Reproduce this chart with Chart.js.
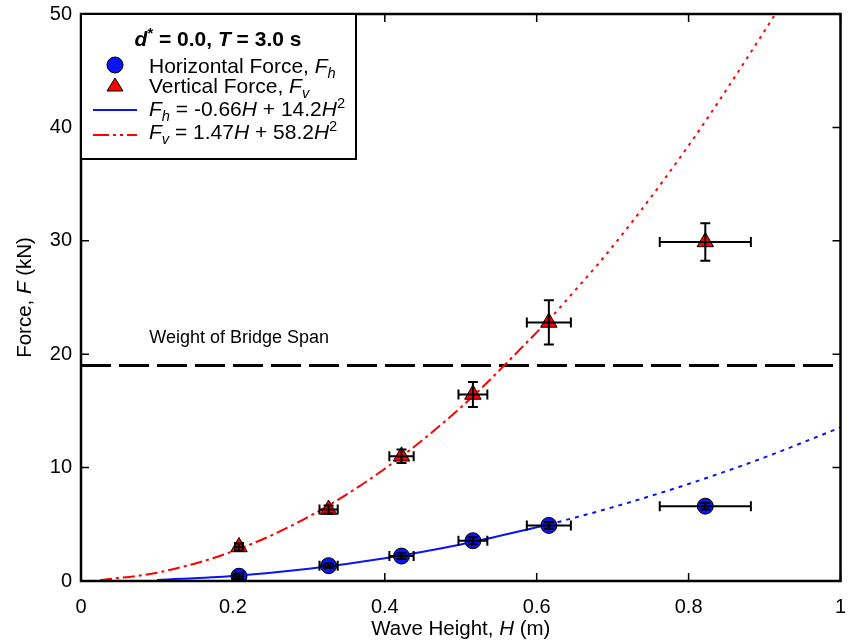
<!DOCTYPE html>
<html>
<head>
<meta charset="utf-8">
<script src="https://cdn.jsdelivr.net/npm/chart.js@4/dist/chart.umd.min.js"></script>
<style>
  html, body { margin: 0; padding: 0; background: #fff; }
  #wrap { width: 851px; height: 644px; }
</style>
</head>
<body>
<div id="wrap"><canvas id="chart" width="851" height="644"></canvas></div>
<script>
// measured points (wave height in m, forces in kN)
const waveHeight = [0.208, 0.326, 0.422, 0.516, 0.616, 0.822];
const waveHeightErr = [0.005, 0.012, 0.016, 0.019, 0.029, 0.06];
const horizForce = [0.42, 1.35, 2.2, 3.55, 4.9, 6.6];
const horizForceErr = [0.25, 0.2, 0.25, 0.3, 0.3, 0.3];
const vertForce = [3.0, 6.3, 11.0, 16.45, 22.8, 29.9];
const vertForceErr = [0.3, 0.35, 0.6, 1.1, 1.95, 1.65];

// fitted curves
const fhFitH = [0.1, 0.2, 0.3, 0.4, 0.5, 0.616];
const fhFitF = [0.08, 0.44, 1.08, 2.01, 3.22, 4.98];
const fhExtH = [0.616, 0.7, 0.8, 0.9, 1.0];
const fhExtF = [4.98, 6.5, 8.56, 10.9, 13.54];
const fvFitH = [0.025, 0.1, 0.2, 0.3, 0.4, 0.5, 0.616];
const fvFitF = [0.07, 0.73, 2.62, 5.68, 9.9, 15.3, 23.0];
const fvExtH = [0.616, 0.7, 0.8, 0.9, 0.916];
const fvExtF = [23.0, 29.5, 38.4, 48.5, 50.2];

const bridgeWeight = 19;
const xTicks = [0, 0.2, 0.4, 0.6, 0.8, 1];
const yTicks = [0, 10, 20, 30, 40, 50];

const FONT = '"Liberation Sans", Arial, sans-serif';
const BLUE = '#0a14f5';
const RED = '#ff0000';

const pts = (xs, ys) => xs.map((x, i) => ({ x: x, y: ys[i] }));

// draw text made of styled pieces: {t, i (italic), b (bold), sub, sup}
function richWidth(ctx, parts, size) {
  let w = 0;
  parts.forEach(p => {
    const s = (p.sub || p.sup) ? size * 0.7 : size;
    ctx.font = (p.i ? 'italic ' : '') + (p.b ? 'bold ' : '') + s + 'px ' + FONT;
    w += ctx.measureText(p.t).width;
  });
  return w;
}
function drawRich(ctx, parts, x, y, size, align) {
  let cx = x;
  if (align === 'center') cx = x - richWidth(ctx, parts, size) / 2;
  ctx.textBaseline = 'alphabetic';
  ctx.textAlign = 'left';
  parts.forEach(p => {
    const s = (p.sub || p.sup) ? size * 0.7 : size;
    ctx.font = (p.i ? 'italic ' : '') + (p.b ? 'bold ' : '') + s + 'px ' + FONT;
    let dy = 0;
    if (p.sub) dy = size * 0.25;
    if (p.sup) dy = -size * 0.4;
    ctx.fillText(p.t, cx, y + dy);
    cx += ctx.measureText(p.t).width;
  });
}

const extras = {
  id: 'extras',
  afterDatasetsDraw(chart) {
    const ctx = chart.ctx;
    const xs = chart.scales.x, ys = chart.scales.y;
    ctx.save();
    ctx.strokeStyle = '#000';
    ctx.lineWidth = 2;
    const cap = 5;
    const bars = (vals, errs) => {
      waveHeight.forEach((h, i) => {
        const px = xs.getPixelForValue(h), py = ys.getPixelForValue(vals[i]);
        const x0 = xs.getPixelForValue(h - waveHeightErr[i]);
        const x1 = xs.getPixelForValue(h + waveHeightErr[i]);
        const y0 = ys.getPixelForValue(vals[i] - errs[i]);
        const y1 = ys.getPixelForValue(vals[i] + errs[i]);
        ctx.beginPath();
        ctx.moveTo(x0, py); ctx.lineTo(x1, py);
        ctx.moveTo(x0, py - cap); ctx.lineTo(x0, py + cap);
        ctx.moveTo(x1, py - cap); ctx.lineTo(x1, py + cap);
        ctx.moveTo(px, y0); ctx.lineTo(px, y1);
        ctx.moveTo(px - cap, y0); ctx.lineTo(px + cap, y0);
        ctx.moveTo(px - cap, y1); ctx.lineTo(px + cap, y1);
        ctx.stroke();
      });
    };
    bars(horizForce, horizForceErr);
    bars(vertForce, vertForceErr);
    ctx.restore();
  },
  afterDraw(chart) {
    const ctx = chart.ctx;
    const a = chart.chartArea;
    const xs = chart.scales.x, ys = chart.scales.y;
    ctx.save();
    ctx.fillStyle = '#000';
    ctx.strokeStyle = '#000';

    // inward ticks on all four sides
    ctx.lineWidth = 1.5;
    ctx.beginPath();
    xTicks.forEach(v => {
      const px = xs.getPixelForValue(v);
      ctx.moveTo(px, a.bottom); ctx.lineTo(px, a.bottom - 8);
      ctx.moveTo(px, a.top); ctx.lineTo(px, a.top + 8);
    });
    yTicks.forEach(v => {
      const py = ys.getPixelForValue(v);
      ctx.moveTo(a.left, py); ctx.lineTo(a.left + 8, py);
      ctx.moveTo(a.right, py); ctx.lineTo(a.right - 8, py);
    });
    ctx.stroke();

    // frame
    ctx.lineWidth = 2.5;
    ctx.strokeRect(a.left, a.top, a.right - a.left, a.bottom - a.top);

    // bridge weight label
    drawRich(ctx, [{ t: 'Weight of Bridge Span' }],
      xs.getPixelForValue(0.09), ys.getPixelForValue(bridgeWeight) - 23, 18);

    // legend box
    const lx = a.left, ly = a.top;
    ctx.fillStyle = '#fff';
    ctx.fillRect(lx, ly, 275, 145);
    ctx.lineWidth = 2;
    ctx.strokeRect(lx, ly, 275, 145);
    ctx.fillStyle = '#000';
    drawRich(ctx, [
      { t: 'd', i: 1, b: 1 }, { t: '*', b: 1, sup: 1 }, { t: ' = 0.0, ', b: 1 },
      { t: 'T', i: 1, b: 1 }, { t: ' = 3.0 s', b: 1 }
    ], lx + 137, ly + 32, 21, 'center');

    const tx = lx + 68;
    // circle marker
    ctx.beginPath();
    ctx.arc(lx + 34, ly + 51, 8, 0, Math.PI * 2);
    ctx.fillStyle = BLUE; ctx.fill();
    ctx.lineWidth = 1; ctx.stroke();
    ctx.fillStyle = '#000';
    drawRich(ctx, [{ t: 'Horizontal Force, ' }, { t: 'F', i: 1 }, { t: 'h', i: 1, sub: 1 }],
      tx, ly + 59, 21);
    // triangle marker
    ctx.beginPath();
    ctx.moveTo(lx + 34, ly + 64);
    ctx.lineTo(lx + 42, ly + 77);
    ctx.lineTo(lx + 26, ly + 77);
    ctx.closePath();
    ctx.fillStyle = RED; ctx.fill(); ctx.stroke();
    ctx.fillStyle = '#000';
    drawRich(ctx, [{ t: 'Vertical Force, ' }, { t: 'F', i: 1 }, { t: 'v', i: 1, sub: 1 }],
      tx, ly + 79, 21);
    // line samples
    ctx.lineWidth = 2;
    ctx.strokeStyle = BLUE;
    ctx.beginPath(); ctx.moveTo(lx + 12, ly + 96); ctx.lineTo(lx + 56, ly + 96); ctx.stroke();
    ctx.strokeStyle = RED;
    ctx.setLineDash([16, 4, 3, 4, 3, 4]);
    ctx.beginPath(); ctx.moveTo(lx + 12, ly + 121); ctx.lineTo(lx + 56, ly + 121); ctx.stroke();
    ctx.setLineDash([]);
    drawRich(ctx, [
      { t: 'F', i: 1 }, { t: 'h', i: 1, sub: 1 }, { t: ' = -0.66' }, { t: 'H', i: 1 },
      { t: ' + 14.2' }, { t: 'H', i: 1 }, { t: '2', sup: 1 }
    ], tx, ly + 102, 21);
    drawRich(ctx, [
      { t: 'F', i: 1 }, { t: 'v', i: 1, sub: 1 }, { t: ' = 1.47' }, { t: 'H', i: 1 },
      { t: ' + 58.2' }, { t: 'H', i: 1 }, { t: '2', sup: 1 }
    ], tx, ly + 125, 21);

    // axis titles
    drawRich(ctx, [{ t: 'Wave Height, ' }, { t: 'H', i: 1 }, { t: ' (m)' }],
      (a.left + a.right) / 2, 635, 20.5, 'center');
    ctx.translate(31, (a.top + a.bottom) / 2);
    ctx.rotate(-Math.PI / 2);
    drawRich(ctx, [{ t: 'Force, ' }, { t: 'F', i: 1 }, { t: ' (kN)' }], 0, 0, 20.5, 'center');
    ctx.restore();
  }
};

const ctx = document.getElementById('chart').getContext('2d');
new Chart(ctx, {
  type: 'scatter',
  data: {
    datasets: [
      {
        label: 'Horizontal Force',
        data: pts(waveHeight, horizForce),
        pointStyle: 'circle',
        pointRadius: 8,
        backgroundColor: BLUE,
        borderColor: '#000',
        borderWidth: 1,
        order: 0
      },
      {
        label: 'Vertical Force',
        data: pts(waveHeight, vertForce),
        pointStyle: 'triangle',
        pointRadius: 9.5,
        backgroundColor: RED,
        borderColor: '#000',
        borderWidth: 1,
        order: 0
      },
      {
        label: 'Fh fit',
        type: 'line',
        data: pts(fhFitH, fhFitF),
        borderColor: BLUE,
        borderWidth: 2,
        pointRadius: 0,
        cubicInterpolationMode: 'monotone',
        order: 2
      },
      {
        label: 'Fh extrapolated',
        type: 'line',
        data: pts(fhExtH, fhExtF),
        borderColor: BLUE,
        borderWidth: 2,
        borderDash: [4, 5],
        pointRadius: 0,
        cubicInterpolationMode: 'monotone',
        order: 2
      },
      {
        label: 'Fv fit',
        type: 'line',
        data: pts(fvFitH, fvFitF),
        borderColor: RED,
        borderWidth: 2,
        borderDash: [12, 4, 3, 4],
        pointRadius: 0,
        cubicInterpolationMode: 'monotone',
        order: 2
      },
      {
        label: 'Fv extrapolated',
        type: 'line',
        data: pts(fvExtH, fvExtF),
        borderColor: RED,
        borderWidth: 2,
        borderDash: [3, 5],
        pointRadius: 0,
        cubicInterpolationMode: 'monotone',
        order: 2
      },
      {
        label: 'Weight of Bridge Span',
        type: 'line',
        data: [{ x: 0, y: bridgeWeight }, { x: 1, y: bridgeWeight }],
        borderColor: '#000',
        borderWidth: 3,
        borderDash: [30, 8],
        pointRadius: 0,
        order: 3
      }
    ]
  },
  options: {
    responsive: false,
    animation: false,
    layout: { padding: 0 },
    plugins: {
      legend: { display: false },
      tooltip: { enabled: false }
    },
    scales: {
      x: {
        type: 'linear',
        min: 0,
        max: 1,
        grid: { display: false, drawTicks: false },
        border: { display: false },
        ticks: {
          stepSize: 0.2,
          padding: 14,
          color: '#000',
          font: { family: FONT, size: 20 },
          callback: v => String(Math.round(v * 10) / 10)
        },
        // fixed size and edge room so the plot box lands where the original is
        afterFit: s => { s.height = 63; s.paddingLeft = 0; s.paddingRight = 10; }
      },
      y: {
        min: 0,
        max: 50,
        grid: { display: false, drawTicks: false },
        border: { display: false },
        ticks: {
          stepSize: 10,
          padding: 9,
          color: '#000',
          font: { family: FONT, size: 20 }
        },
        afterFit: s => { s.width = 81; s.paddingTop = 14; s.paddingBottom = 0; }
      }
    }
  },
  plugins: [extras]
});
</script>
</body>
</html>
